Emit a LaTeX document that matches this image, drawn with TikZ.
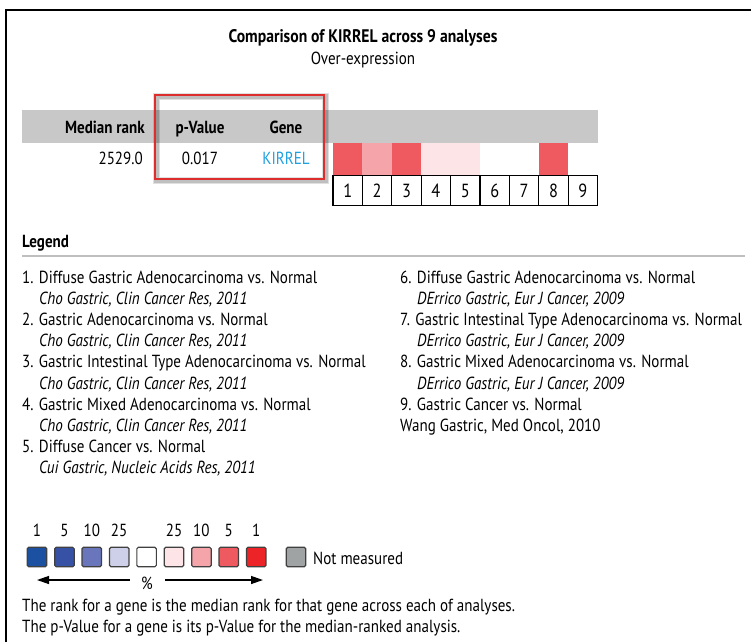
\documentclass[tikz,border=0pt]{standalone}
\usepackage{fontspec}
\setmainfont{PT Sans}[FakeStretch=0.86]
\usetikzlibrary{arrows.meta}
\definecolor{hdrgray}{RGB}{200,200,200}
\definecolor{boxred}{RGB}{222,45,45}
\definecolor{genecol}{RGB}{30,160,225}
\definecolor{hA}{RGB}{238,90,95}
\definecolor{hB}{RGB}{245,165,170}
\definecolor{hC}{RGB}{253,228,230}
\definecolor{sB1}{RGB}{28,80,160}
\definecolor{sB2}{RGB}{55,82,165}
\definecolor{sB3}{RGB}{105,118,188}
\definecolor{sB4}{RGB}{205,208,232}
\definecolor{sR1}{RGB}{236,36,40}
\definecolor{nmgray}{RGB}{160,163,163}
\tikzset{
  txt/.style={inner sep=0pt, font=\fontsize{17.5}{20}\selectfont},
  itxt/.style={inner sep=0pt, font=\fontsize{17.5}{20}\selectfont\itshape},
  btxt/.style={inner sep=0pt, font=\fontsize{17.5}{20}\selectfont\bfseries},
  numbox/.style={draw=black, line width=1.3pt, minimum width=29.4pt, minimum height=30pt, inner sep=0pt, font=\fontsize{19}{20}\selectfont},
  heat/.style={minimum width=29.4pt, minimum height=32pt, inner sep=0pt},
  sq/.style={draw=black!75, line width=1.2pt, rounded corners=1.5pt, minimum width=19.5pt, minimum height=19.5pt, inner sep=0pt},
  arr/.style={line width=1.3pt, -{Triangle[length=12pt,width=8pt]}}
}
\begin{document}
\begin{tikzpicture}[x=1pt,y=-1pt]
\useasboundingbox (0,0) rectangle (751,642);
\coordinate (fbl) at (6,642);
\coordinate (ftr) at (751,10);
\draw[line width=1.3pt] (fbl) |- (ftr);

\node[btxt, anchor=base, font=\fontsize{18.2}{20}\selectfont\bfseries] (title) at (363,43) {Comparison of KIRREL across 9 analyses};
\node[txt, anchor=base] (subtitle) at (363,64) {Over-expression};

\fill[hdrgray] (22,110) rectangle (598,143);
\node[btxt, anchor=base east] (hmed) at (145,133) {Median rank};
\node[btxt, anchor=base] (hp) at (200,133) {p-Value};
\node[btxt, anchor=base] (hgene) at (286,133) {Gene};
\node[txt, anchor=base east] (vmed) at (143,164) {2529.0};
\node[txt, anchor=base] (vp) at (200,164) {0.017};
\node[txt, anchor=base, text=genecol] (vgene) at (286,164) {KIRREL};
\draw[black, opacity=0.12, line width=7pt] (156.5,96.5) rectangle (325.5,180.5);
\draw[black, opacity=0.15, line width=4.5pt] (156.5,96.5) rectangle (325.5,180.5);
\draw[boxred, line width=2.8pt] (155,95) rectangle (324,179);

\foreach \i/\c in {1/hA,2/hB,3/hA,4/hC,5/hC,6/white,7/white,8/hA,9/white} {
  \node[heat, fill=\c] (h\i) at ({333+29.4*(\i-0.5)},159) {};
  \node[numbox] (n\i) at ({333+29.4*(\i-0.5)},190.5) {\i};
}

\node[btxt, anchor=base west] (legend) at (22,247) {Legend};
\coordinate (sepL) at (22,256);
\coordinate (sepR) at (745,256);
\draw[black!25, line width=2pt] (sepL) -- (sepR);

\foreach \y/\t in {283/{1. Diffuse Gastric Adenocarcinoma vs. Normal},325.4/{2. Gastric Adenocarcinoma vs. Normal},367.8/{3. Gastric Intestinal Type Adenocarcinoma vs. Normal},410.2/{4. Gastric Mixed Adenocarcinoma vs. Normal},452.6/{5. Diffuse Cancer vs. Normal}}
  \node[txt, anchor=base west] at (22,\y) {\t};
\foreach \y/\t in {304.2/{Cho Gastric, Clin Cancer Res, 2011},346.6/{Cho Gastric, Clin Cancer Res, 2011},389/{Cho Gastric, Clin Cancer Res, 2011},431.4/{Cho Gastric, Clin Cancer Res, 2011},473.8/{Cui Gastric, Nucleic Acids Res, 2011}}
  \node[itxt, anchor=base west] at (39,\y) {\t};
\foreach \y/\t in {283/{6. Diffuse Gastric Adenocarcinoma vs. Normal},325.4/{7. Gastric Intestinal Type Adenocarcinoma vs. Normal},367.8/{8. Gastric Mixed Adenocarcinoma vs. Normal},410.2/{9. Gastric Cancer vs. Normal},431.4/{Wang Gastric, Med Oncol, 2010}}
  \node[txt, anchor=base west] at (400,\y) {\t};
\foreach \y/\t in {304.2/{DErrico Gastric, Eur J Cancer, 2009},346.6/{DErrico Gastric, Eur J Cancer, 2009},389/{DErrico Gastric, Eur J Cancer, 2009}}
  \node[itxt, anchor=base west] at (417,\y) {\t};

\foreach \i/\c/\n in {1/sB1/1,2/sB2/5,3/sB3/10,4/sB4/25,5/white/,6/hC/25,7/hB/10,8/hA/5,9/sR1/1} {
  \node[sq, fill=\c] (s\i) at ({37+27.4*(\i-1)},557) {};
  \node[txt, anchor=base] (l\i) at ({37+27.4*(\i-1)},536) {\n};
}
\node[sq, fill=nmgray] (snm) at (296,557) {};
\node[txt, anchor=base west] (nmtext) at (313,564) {Not measured};

\node[txt, anchor=base] (pct) at (147,589) {\%};
\coordinate (pl) at (130,580);
\coordinate (al) at (37,580);
\coordinate (pr) at (165,580);
\coordinate (ar) at (263,580);
\draw[arr] (pl) -- (al);
\draw[arr] (pr) -- (ar);

\node[txt, anchor=base west] (note1) at (22,611) {The rank for a gene is the median rank for that gene across each of analyses.};
\node[txt, anchor=base west] (note2) at (22,632) {The p-Value for a gene is its p-Value for the median-ranked analysis.};
\end{tikzpicture}
\end{document}
